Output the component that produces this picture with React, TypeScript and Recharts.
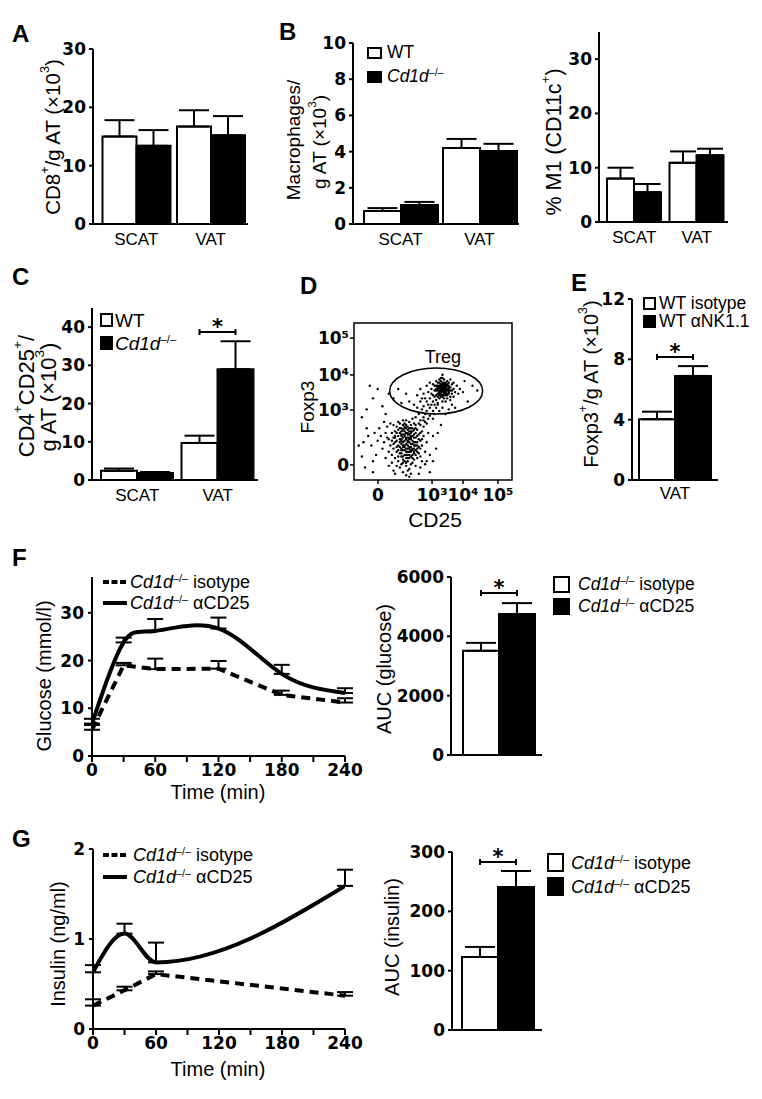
import React from 'react';
import {
  BarChart, Bar, XAxis, YAxis, ErrorBar, LineChart, Line,
  ScatterChart, Scatter, ReferenceArea, ReferenceDot, Legend,
} from 'recharts';

// ---------------- DATA ----------------
const barCategories = ['SCAT', 'VAT'];
const vatCategory = ['VAT'];
const aucCategory = ['AUC'];

// A: CD8+/g AT (x10^3)
const cd8Wt = [15.0, 16.7];
const cd8WtSem = [2.8, 2.8];
const cd8Ko = [13.4, 15.2];
const cd8KoSem = [2.7, 3.3];

// B: macrophages / g AT (x10^3)
const macWt = [0.72, 4.2];
const macWtSem = [0.16, 0.5];
const macKo = [1.05, 4.03];
const macKoSem = [0.17, 0.4];

// B right: % M1 (CD11c+)
const m1Wt = [8.0, 10.9];
const m1WtSem = [2.0, 2.1];
const m1Ko = [5.5, 12.3];
const m1KoSem = [1.5, 1.2];

// C: CD4+CD25+/g AT (x10^3)
const tregWt = [2.4, 9.7];
const tregWtSem = [0.6, 1.9];
const tregKo = [1.8, 29.0];
const tregKoSem = [0.3, 7.3];

// E: Foxp3+/g AT (x10^3)
const foxIso = [4.03];
const foxIsoSem = [0.5];
const foxNk = [6.9];
const foxNkSem = [0.65];

// F: glucose
const gluTimes = [0, 30, 60, 120, 180, 240];
const gluIso = [5.5, 19.0, 18.2, 18.3, 12.8, 11.2];
const gluIsoSem = [1.0, 0.5, 2.2, 1.6, 0.9, 0.9];
const gluCd25 = [6.8, 23.8, 26.2, 26.7, 17.2, 13.2];
const gluCd25Sem = [1.0, 1.0, 2.5, 2.3, 1.9, 1.0];
const aucGluIso = [3510];
const aucGluIsoSem = [270];
const aucGluCd25 = [4750];
const aucGluCd25Sem = [370];

// G: insulin
const insTimes = [0, 30, 60, 240];
const insIso = [0.26, 0.43, 0.61, 0.37];
const insIsoSem = [0.07, 0.04, 0.03, 0.04];
const insCd25 = [0.63, 1.06, 0.74, 1.59];
const insCd25Sem = [0.08, 0.11, 0.22, 0.18];
const aucInsIso = [123];
const aucInsIsoSem = [17];
const aucInsCd25 = [241];
const aucInsCd25Sem = [27];

// tick values
const ticksA = [0, 10, 20, 30];
const ticksB = [0, 2, 4, 6, 8, 10];
const ticksM1 = [0, 10, 20, 30];
const ticksC = [0, 10, 20, 30, 40];
const ticksE = [0, 4, 8, 12];
const ticksGlu = [0, 10, 20, 30];
const ticksIns = [0, 1, 2];
const ticksAucGlu = [0, 2000, 4000, 6000];
const ticksAucIns = [0, 100, 200, 300];
const timeTicks = [0, 30, 60, 90, 120, 150, 180, 210, 240];

// D: flow cytometry (display units 0-100 on biexponential axes)
const flowTickPos = [15.2, 49.4, 69.0, 91.1];
const flowYTickPos = [9.6, 44.6, 66.9, 90.4];
const flowTickLabels = ['0', '10³', '10⁴', '10⁵'];
const flowEvents: [number, number][] = [
  [30,25],[32,22],[28,28],[35,20],[33,30],[27,18],[38,24],[31,15],[36,28],[29,33],[34,12],[26,24],[40,20],[37,16],[24,30],[31,35],[39,30],[33,18],[28,12],[35,33],
  [22,26],[41,26],[30,20],[36,10],[25,20],[43,22],[32,28],[29,8],[38,36],[20,30],[34,24],[27,34],[42,30],[31,5],[23,22],[37,20],[33,38],[19,24],[40,14],[35,26],
  [26,14],[44,28],[30,31],[36,18],[21,34],[39,9],[32,12],[28,22],[45,18],[34,34],[17,28],[33,3],[41,36],[29,26],[38,13],[24,16],[36,23],[31,38],[43,12],[26,31],
  [35,7],[22,18],[40,32],[30,10],[37,31],[18,20],[34,16],[28,37],[46,24],[32,33],[25,27],[39,19],[35,2],[15,25],[42,8],[29,17],[33,26],[44,34],[27,9],[38,27],
  [20,14],[36,35],[31,24],[47,30],[23,36],[34,6],[40,24],[26,4],[37,39],[30,28],[13,30],[35,14],[41,17],[28,32],[45,10],[24,11],[39,35],[32,19],[21,27],[43,26],
  [34,29],[11,22],[36,4],[29,36],[38,18],[33,9],[16,33],[42,20],[25,35],[31,21],[48,16],[27,25],[37,11],[44,38],[9,28],[35,37],[30,15],[22,9],[40,28],[33,14],
  [19,37],[36,26],[6,24],[41,4],[28,19],[32,36],[46,12],[26,28],[38,22],[14,16],[34,20],[30,33],[8,33],[42,35],[25,6],[36,31],[31,11],[12,12],[39,24],
  [31,27],[33,23],[35,29],[29,21],[37,25],[32,31],[34,18],[36,21],[30,17],[38,29],[33,33],[35,16],[31,19],[37,33],[34,27],[32,25],[36,30],[30,23],[39,22],[33,20],
  [35,24],[31,29],[37,19],[34,32],[32,16],[36,27],[29,30],[38,17],[33,27],[35,21],[30,26],[37,28],[34,14],[32,21],[36,33],[31,32],[39,27],[33,16],[35,31],[30,19],
  [38,32],[34,22],[32,29],[36,15],[31,13],[37,23],[33,35],[35,18],[29,24],[39,16],[34,25],[32,34],[36,19],[30,29],[38,20],[33,11],[35,27],[31,22],[37,14],[34,30],
  [40,22],[41,29],[42,25],[40,18],[43,31],[41,21],[39,33],[42,15],[27,21],[26,27],[25,23],[28,15],[27,30],[24,25],
  [55,57],[57,59],[53,55],[58,54],[52,60],[56,62],[60,57],[54,52],[59,61],[51,57],[57,55],[55,63],[61,59],[53,58],[58,50],[50,54],[56,56],[62,55],[54,60],[59,57],
  [52,51],[57,64],[49,58],[60,62],[55,53],[63,58],[53,62],[58,58],[51,60],[56,50],[61,53],[54,56],[48,52],[59,55],[55,65],[62,61],[52,54],[57,52],[50,61],[60,59],
  [56,59],[64,56],[53,49],[58,62],[47,56],[55,58],[61,64],[51,53],[57,57],[54,64],[63,53],[49,55],[59,52],[52,63],[56,54],[60,55],[46,60],[58,60],[54,58],[62,57],
  [50,50],[57,61],[65,60],[53,53],[55,60],[48,62],[61,51],[56,65],[52,57],[59,63],[44,55],[58,56],[66,55],[51,48],[54,54],[60,60],[45,52],[57,58],[63,62],[53,60],
  [67,58],[42,58],[55,55],[69,56],[40,54],[56,67],
  [54,57],[56,58],[55,61],[57,56],[53,59],[58,59],[56,53],[59,58],[55,56],[57,60],[54,55],[58,57],[56,61],[60,58],[55,59],[57,54],[53,57],[59,60],[56,57],[58,55],
  [54,62],[57,62],[55,54],[60,56],[52,58],[59,54],[56,60],[58,61],[54,59],[61,57],[55,57],[57,59],
  [44,40],[46,44],[42,38],[48,46],[45,42],[50,44],[43,45],[47,39],[41,42],[49,48],[46,36],[52,46],[44,47],[48,41],[40,46],[51,42],[45,37],[47,48],[54,44],[42,50],
  [50,39],[53,48],[39,40],[46,50],[56,46],[43,52],[38,48],[60,45],[35,50],[64,46],[58,42],[62,48],
  [8,45],[12,52],[15,58],[5,40],[18,47],[22,55],[10,60],[25,52],[28,58],[30,49],[20,42],[33,55],[75,60],[78,57],[72,50],[70,63],[5,15],[3,22],[7,8],[12,5],
  [50,28],[52,20],[48,5],[55,35],[53,30],[50,12],
];

// ---------------- STYLE ----------------
const TICK_FONT = "'DejaVu Sans', Verdana, sans-serif";
const TEXT_FONT = "'Liberation Sans', Arial, Helvetica, sans-serif";
const YW = 100;
const MT = 24;
const XH = 70;
const AXIS = { stroke: '#000', strokeWidth: 2 };
const TL = { stroke: '#000', strokeWidth: 2 };
const numTick = (fs: number) => ({ fill: '#000', fontSize: fs, fontFamily: TICK_FONT, fontWeight: 700 });
const CAT_TICK = { fill: '#000', fontSize: 17, fontFamily: TEXT_FONT };

type Seg = string | { s: string; sup?: boolean; it?: boolean };

function richSpans(segs: Seg[], fs: number) {
  let raised = false;
  return segs.map((seg, i) => {
    const o = typeof seg === 'string' ? { s: seg } : seg;
    const up = !!o.sup;
    let dy = 0;
    if (up && !raised) { dy = -fs * 0.4; raised = true; }
    else if (!up && raised) { dy = fs * 0.4; raised = false; }
    return (
      <tspan key={i} dy={dy || undefined} fontSize={up ? fs * 0.62 : undefined} fontStyle={o.it ? 'italic' : undefined}>
        {o.s}
      </tspan>
    );
  });
}

type PT = { segs: Seg[]; x: number; y: number; fs: number; rot?: boolean };

function PageTexts({ CL, CT, items }: { CL: number; CT: number; items: PT[] }) {
  return (
    <g>
      {items.map((it, i) => {
        const x = it.x - CL;
        const y = it.y - CT;
        return (
          <text key={i} x={x} y={y} textAnchor="middle" dominantBaseline="central"
            transform={it.rot ? `rotate(-90 ${x} ${y})` : undefined}
            fontFamily={TEXT_FONT} fontSize={it.fs} fill="#000">
            {richSpans(it.segs, it.fs)}
          </text>
        );
      })}
    </g>
  );
}

const Ko = () => (
  <><i>Cd1d</i><sup style={{ fontSize: '0.6em', lineHeight: 0, verticalAlign: '0.6em' }}>–/–</sup></>
);

type LegendItem = { label: React.ReactNode; fill: string };

function BoxLegend({ items, box, spacing, gap, fs }: { items: LegendItem[]; box: [number, number]; spacing: number; gap: number; fs: number }) {
  return (
    <div style={{ position: 'relative', fontFamily: TEXT_FONT, fontSize: fs, color: '#000' }}>
      {items.map((it, i) => (
        <div key={i} style={{ position: 'absolute', left: 0, top: i * spacing, height: box[1], display: 'flex', alignItems: 'center', whiteSpace: 'nowrap' }}>
          <div style={{ width: box[0], height: box[1], boxSizing: 'border-box', border: '2px solid #000', background: it.fill, flex: 'none' }} />
          <span style={{ marginLeft: gap, lineHeight: 1 }}>{it.label}</span>
        </div>
      ))}
    </div>
  );
}

function LineLegend({ spacing, gap, fs }: { spacing: number; gap: number; fs: number }) {
  const rows = [
    { dash: '6 2.5', label: <><Ko /> isotype</> },
    { dash: undefined, label: <><Ko /> αCD25</> },
  ];
  return (
    <div style={{ position: 'relative', fontFamily: TEXT_FONT, fontSize: fs, color: '#000' }}>
      {rows.map((r, i) => (
        <div key={i} style={{ position: 'absolute', left: 0, top: i * spacing, height: 20, display: 'flex', alignItems: 'center', whiteSpace: 'nowrap' }}>
          <svg width={24} height={10} style={{ flex: 'none' }}>
            <line x1={0} x2={24} y1={5} y2={5} stroke="#000" strokeWidth={4} strokeDasharray={r.dash} />
          </svg>
          <span style={{ marginLeft: gap, lineHeight: 1 }}>{r.label}</span>
        </div>
      ))}
    </div>
  );
}

function bracketRenderer(idx: number, val: number, mean: number) {
  return (props: any) => {
    const vb = props.viewBox && props.viewBox.width !== undefined ? props.viewBox : props;
    const { x, y, width, height } = vb;
    const value = Array.isArray(props.value) ? props.value[1] : props.value;
    const index = props.index;
    if (index !== undefined ? index !== idx : value !== mean) return null;
    if (!value || !height) return null;
    const base = y + height;
    const yb = base - (val / value) * height;
    const xa = x + width / 2;
    const xb = x + width * 1.5;
    return (
      <g>
        <line x1={xa} x2={xb} y1={yb} y2={yb} stroke="#000" strokeWidth={2} />
        <line x1={xa} x2={xa} y1={yb - 3} y2={yb + 3} stroke="#000" strokeWidth={2} />
        <line x1={xb} x2={xb} y1={yb - 3} y2={yb + 3} stroke="#000" strokeWidth={2} />
        <text x={(xa + xb) / 2} y={yb + 2} textAnchor="middle" fontSize={21} fontWeight={700} fontFamily={TICK_FONT} fill="#000">*</text>
      </g>
    );
  };
}

type BarPanelProps = {
  x0: number; y0: number; x1: number; y1: number;
  cats: string[]; a: number[]; aSem: number[]; b: number[]; bSem: number[];
  domain: [number, number]; ticks: number[];
  padL: number; padR: number; gap: number; errW: number; tickFs?: number; catMargin?: number;
  hideCat?: boolean; mr?: number;
  texts: PT[];
  bracket?: { index: number; value: number };
  legend?: { items: LegendItem[]; x: number; y: number; box: [number, number]; spacing: number; gap: number; fs: number };
};

function BarPanel(p: BarPanelProps) {
  const MR = p.mr ?? 20;
  const CL = p.x0 - YW;
  const CT = p.y0 - MT;
  const W = p.x1 - p.x0 + YW + MR;
  const H = p.y1 - p.y0 + MT + XH;
  const rows = p.cats.map((c, i) => ({ cat: c, a: p.a[i], aErr: [0, p.aSem[i]], b: p.b[i], bErr: [0, p.bSem[i]] }));
  return (
    <div style={{ position: 'absolute', left: CL, top: CT }}>
      <BarChart width={W} height={H} data={rows} margin={{ top: MT, right: MR, bottom: 0, left: 0 }} barCategoryGap={p.gap} barGap={0}>
        <XAxis dataKey="cat" height={XH} padding={{ left: p.padL, right: p.padR }} axisLine={AXIS}
          tickLine={false} tickSize={0} tickMargin={p.catMargin ?? 9} tick={p.hideCat ? false : CAT_TICK} interval={0} />
        <YAxis width={YW} domain={p.domain} ticks={p.ticks} axisLine={AXIS} tickLine={TL} tickSize={4} tickMargin={3}
          tick={numTick(p.tickFs ?? 17)} allowDataOverflow interval={0}
          label={<PageTexts CL={CL} CT={CT} items={p.texts} />} />
        <Bar dataKey="a" fill="#fff" stroke="#000" strokeWidth={2} isAnimationActive={false}
          label={p.bracket ? bracketRenderer(p.bracket.index, p.bracket.value, p.a[p.bracket.index]) : undefined}>
          <ErrorBar dataKey="aErr" width={p.errW} stroke="#000" strokeWidth={2} direction="y" />
        </Bar>
        <Bar dataKey="b" fill="#000" stroke="#000" strokeWidth={2} isAnimationActive={false}>
          <ErrorBar dataKey="bErr" width={p.errW} stroke="#000" strokeWidth={2} direction="y" />
        </Bar>
        {p.legend && (
          <Legend layout="horizontal" verticalAlign="middle" align="center" width={260} height={60}
            wrapperStyle={{ left: p.legend.x - CL, top: p.legend.y - CT, width: 260, height: 60 }}
            content={() => <BoxLegend items={p.legend!.items} box={p.legend!.box} spacing={p.legend!.spacing} gap={p.legend!.gap} fs={p.legend!.fs} />} />
        )}
      </BarChart>
    </div>
  );
}

type LinePanelProps = {
  x0: number; y0: number; x1: number; y1: number;
  times: number[]; iso: number[]; isoSem: number[]; cd: number[]; cdSem: number[];
  domain: [number, number]; ticks: number[];
  isoCurve: any; cdCurve: any;
  texts: PT[]; xTexts: PT[];
  legend: { x: number; y: number; spacing: number; gap: number; fs: number };
};

function LinePanel(p: LinePanelProps) {
  const MR = 30;
  const CL = p.x0 - YW;
  const CT = p.y0 - MT;
  const W = p.x1 - p.x0 + YW + MR;
  const H = p.y1 - p.y0 + MT + XH;
  const rows = p.times.map((t, i) => ({ t, iso: p.iso[i], isoErr: [0, p.isoSem[i]], cd: p.cd[i], cdErr: [0, p.cdSem[i]] }));
  return (
    <div style={{ position: 'absolute', left: CL, top: CT }}>
      <LineChart width={W} height={H} data={rows} margin={{ top: MT, right: MR, bottom: 0, left: 0 }}>
        <XAxis dataKey="t" type="number" domain={[0, 240]} ticks={timeTicks} interval={0} allowDataOverflow
          tickFormatter={(v: number) => (v % 60 === 0 ? String(v) : '')}
          height={XH} axisLine={AXIS} tickLine={TL} tickSize={6} tickMargin={2} tick={numTick(17)}
          label={<PageTexts CL={CL} CT={CT} items={p.xTexts} />} />
        <YAxis width={YW} domain={p.domain} ticks={p.ticks} axisLine={AXIS} tickLine={TL} tickSize={4} tickMargin={4}
          tick={numTick(17)} allowDataOverflow interval={0}
          label={<PageTexts CL={CL} CT={CT} items={p.texts} />} />
        <Line dataKey="iso" type={p.isoCurve} stroke="#000" strokeWidth={4} strokeDasharray="9 6" dot={false} isAnimationActive={false}>
          <ErrorBar dataKey="isoErr" width={8} stroke="#000" strokeWidth={2} direction="y" />
        </Line>
        <Line dataKey="cd" type={p.cdCurve} stroke="#000" strokeWidth={4} dot={false} isAnimationActive={false}>
          <ErrorBar dataKey="cdErr" width={8} stroke="#000" strokeWidth={2} direction="y" />
        </Line>
        <Legend layout="horizontal" verticalAlign="middle" align="center" width={260} height={50}
          wrapperStyle={{ left: p.legend.x - CL, top: p.legend.y - CT, width: 260, height: 50 }}
          content={() => <LineLegend spacing={p.legend.spacing} gap={p.legend.gap} fs={p.legend.fs} />} />
      </LineChart>
    </div>
  );
}

function FlowPanel() {
  const x0 = 354, y0 = 323, x1 = 512, y1 = 480;
  const MR = 20;
  const CL = x0 - YW;
  const CT = y0 - MT;
  const W = x1 - x0 + YW + MR;
  const H = y1 - y0 + MT + XH;
  const rows = flowEvents.map(([u, v]) => ({ u, v }));
  const fmtX = (v: number) => flowTickLabels[flowTickPos.indexOf(v)] ?? '';
  const fmtY = (v: number) => flowTickLabels[flowYTickPos.indexOf(v)] ?? '';
  return (
    <div style={{ position: 'absolute', left: CL, top: CT }}>
      <ScatterChart width={W} height={H} margin={{ top: MT, right: MR, bottom: 0, left: 0 }}>
        <XAxis type="number" dataKey="u" domain={[0, 100]} ticks={flowTickPos} tickFormatter={fmtX} interval={0} allowDataOverflow
          height={XH} axisLine={false} tickLine={{ stroke: '#000', strokeWidth: 1.5 }} tickSize={4} tickMargin={5} tick={numTick(17)}
          label={<PageTexts CL={CL} CT={CT} items={[{ segs: ['CD25'], x: 435, y: 519, fs: 21 }]} />} />
        <YAxis type="number" dataKey="v" domain={[0, 100]} ticks={flowYTickPos} tickFormatter={fmtY} interval={0} allowDataOverflow
          width={YW} axisLine={false} tickLine={{ stroke: '#000', strokeWidth: 1.5 }} tickSize={4} tickMargin={1} tick={numTick(17)}
          label={<PageTexts CL={CL} CT={CT} items={[{ segs: ['Foxp3'], x: 307, y: 407, fs: 19, rot: true }]} />} />
        <ReferenceArea x1={0} x2={100} y1={0} y2={100} fill="none" fillOpacity={0} stroke="#000" strokeWidth={1.5} ifOverflow="visible" />
        <Scatter data={rows} isAnimationActive={false}
          shape={(s: any) => <circle cx={s.cx} cy={s.cy} r={1.2} fill="#000" />} />
        <ReferenceDot x={52} y={56.7} r={1} ifOverflow="visible"
          shape={(s: any) => <ellipse cx={s.cx} cy={s.cy} rx={46.5} ry={23} fill="none" stroke="#000" strokeWidth={1.5} />} />
        <ReferenceDot x={56.3} y={78.3} r={1} ifOverflow="visible"
          shape={(s: any) => <text x={s.cx} y={s.cy} textAnchor="middle" dominantBaseline="central" fontFamily={TEXT_FONT} fontSize={18} fill="#000">Treg</text>} />
      </ScatterChart>
    </div>
  );
}

const PanelLetter = ({ ch, x, y }: { ch: string; x: number; y: number }) => (
  <div style={{ position: 'absolute', left: x, top: y - 3, fontFamily: TEXT_FONT, fontWeight: 700, fontSize: 24, lineHeight: 1, color: '#000' }}>{ch}</div>
);

const wtKoItems: LegendItem[] = [
  { label: 'WT', fill: '#fff' },
  { label: <Ko />, fill: '#000' },
];
const nkItems: LegendItem[] = [
  { label: 'WT isotype', fill: '#fff' },
  { label: 'WT αNK1.1', fill: '#000' },
];
const cd25Items: LegendItem[] = [
  { label: <><Ko /> isotype</>, fill: '#fff' },
  { label: <><Ko /> αCD25</>, fill: '#000' },
];

const X3: Seg = { s: '3', sup: true };
const PLUS: Seg = { s: '+', sup: true };

export default function App() {
  return (
    <div style={{ position: 'absolute', left: 0, top: 0, width: 762, height: 1099, background: '#fff', overflow: 'hidden' }}>
      <PanelLetter ch="A" x={12} y={25} />
      <PanelLetter ch="B" x={279} y={23} />
      <PanelLetter ch="C" x={12} y={268} />
      <PanelLetter ch="D" x={300} y={277} />
      <PanelLetter ch="E" x={571} y={274} />
      <PanelLetter ch="F" x={12} y={549} />
      <PanelLetter ch="G" x={12} y={830} />

      <BarPanel x0={93} y0={49} x1={248} y1={224} cats={barCategories}
        a={cd8Wt} aSem={cd8WtSem} b={cd8Ko} bSem={cd8KoSem} domain={[0, 30]} ticks={ticksA}
        padL={6} padR={0} gap={3.5} errW={15}
        texts={[{ segs: ['CD8', PLUS, '/g AT (×10', X3, ')'], x: 52, y: 137, fs: 20.5, rot: true }]} />

      <BarPanel x0={353} y0={43} x1={519} y1={224} cats={barCategories}
        a={macWt} aSem={macWtSem} b={macKo} bSem={macKoSem} domain={[0, 10]} ticks={ticksB}
        padL={8} padR={0} gap={3} errW={15}
        texts={[
          { segs: ['Macrophages/'], x: 293, y: 140, fs: 19, rot: true },
          { segs: ['g AT (×10', X3, ')'], x: 319, y: 142, fs: 19, rot: true },
        ]}
        legend={{ items: wtKoItems, x: 367, y: 47, box: [15, 12], spacing: 24, gap: 5, fs: 17.5 }} />

      <BarPanel x0={599} y0={32} x1={728} y1={222} cats={barCategories}
        a={m1Wt} aSem={m1WtSem} b={m1Ko} bSem={m1KoSem} domain={[0, 35]} ticks={ticksM1}
        padL={4} padR={0} gap={4} errW={13}
        texts={[{ segs: ['% M1 (CD11c', PLUS, ')'], x: 554, y: 142, fs: 21.5, rot: true }]} />

      <BarPanel x0={92} y0={308} x1={258} y1={480} cats={barCategories}
        a={tregWt} aSem={tregWtSem} b={tregKo} bSem={tregKoSem} domain={[0, 45]} ticks={ticksC}
        padL={5} padR={0} gap={4} errW={15}
        bracket={{ index: 1, value: 38.7 }}
        texts={[
          { segs: ['CD4', PLUS, 'CD25', PLUS, '/'], x: 26, y: 396, fs: 22, rot: true },
          { segs: ['g AT (×10', X3, ')'], x: 48, y: 397, fs: 22, rot: true },
        ]}
        legend={{ items: wtKoItems, x: 100, y: 313, box: [13, 14], spacing: 23, gap: 2, fs: 19 }} />

      <FlowPanel />

      <BarPanel x0={632} y0={299} x1={718} y1={480} cats={vatCategory}
        a={foxIso} aSem={foxIsoSem} b={foxNk} bSem={foxNkSem} domain={[0, 12]} ticks={ticksE}
        padL={0} padR={0} gap={7} errW={15} catMargin={7}
        bracket={{ index: 0, value: 8.15 }}
        texts={[{ segs: ['Foxp3', PLUS, '/g AT (×10', X3, ')'], x: 591, y: 384, fs: 20, rot: true }]}
        legend={{ items: nkItems, x: 643, y: 297, box: [13, 13], spacing: 18, gap: 3, fs: 17.5 }} />

      <LinePanel x0={92} y0={577} x1={345} y1={756} times={gluTimes}
        iso={gluIso} isoSem={gluIsoSem} cd={gluCd25} cdSem={gluCd25Sem}
        domain={[0, 37.5]} ticks={ticksGlu} isoCurve="linear" cdCurve="natural"
        texts={[{ segs: ['Glucose (mmol/l)'], x: 44, y: 676, fs: 20, rot: true }]}
        xTexts={[{ segs: ['Time (min)'], x: 218, y: 792, fs: 20 }]}
        legend={{ x: 103, y: 572, spacing: 21, gap: 3, fs: 18 }} />

      <BarPanel x0={451} y0={577} x1={542} y1={755} cats={aucCategory}
        a={aucGluIso} aSem={aucGluIsoSem} b={aucGluCd25} bSem={aucGluCd25Sem} domain={[0, 6000]} ticks={ticksAucGlu}
        padL={4} padR={0} gap={8} errW={15} hideCat
        bracket={{ index: 0, value: 5460 }}
        texts={[{ segs: ['AUC (glucose)'], x: 384, y: 669, fs: 20, rot: true }]}
        legend={{ items: cd25Items, x: 553, y: 576, box: [17, 17], spacing: 22, gap: 8, fs: 17.5 }} />

      <LinePanel x0={93} y0={849} x1={345} y1={1029} times={insTimes}
        iso={insIso} isoSem={insIsoSem} cd={insCd25} cdSem={insCd25Sem}
        domain={[0, 2]} ticks={ticksIns} isoCurve="linear" cdCurve="monotone"
        texts={[{ segs: ['Insulin (ng/ml)'], x: 58, y: 944, fs: 20, rot: true }]}
        xTexts={[{ segs: ['Time (min)'], x: 218, y: 1069, fs: 20 }]}
        legend={{ x: 103, y: 845, spacing: 22, gap: 6, fs: 18 }} />

      <BarPanel x0={452} y0={852} x1={542} y1={1030} cats={aucCategory}
        a={aucInsIso} aSem={aucInsIsoSem} b={aucInsCd25} bSem={aucInsCd25Sem} domain={[0, 300]} ticks={ticksAucIns}
        padL={2} padR={0} gap={8} errW={15} hideCat
        bracket={{ index: 0, value: 283 }}
        texts={[{ segs: ['AUC (insulin)'], x: 392, y: 937, fs: 20, rot: true }]}
        legend={{ items: cd25Items, x: 547, y: 853, box: [17, 19], spacing: 24, gap: 7, fs: 18 }} />
    </div>
  );
}
